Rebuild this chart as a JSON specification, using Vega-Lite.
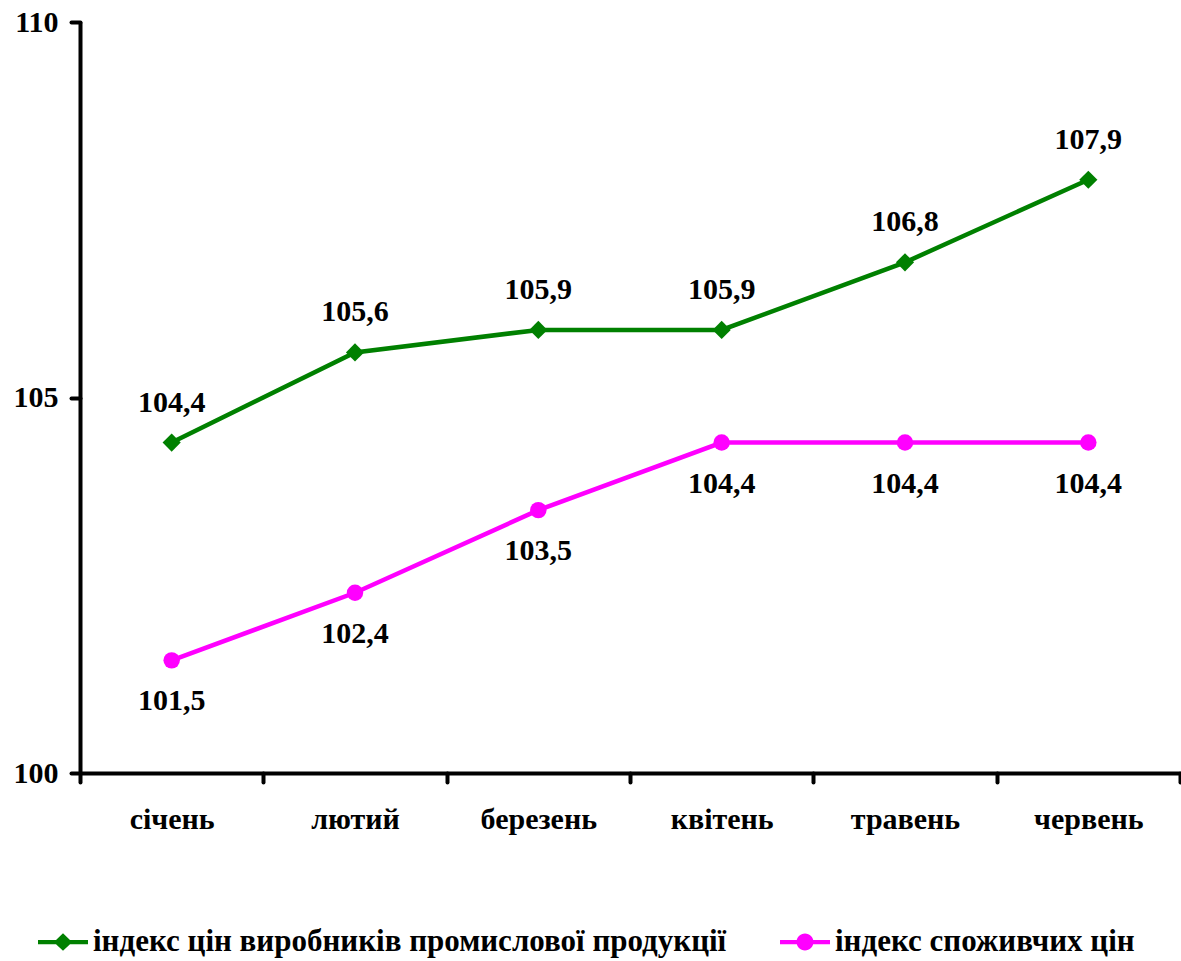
{
  "$schema": "https://vega.github.io/schema/vega-lite/v6.json",
  "autosize": "none",
  "width": 1100,
  "height": 751,
  "padding": {"left": 80, "top": 22, "right": 1, "bottom": 188},
  "background": "white",
  "config": {
    "view": {"stroke": null},
    "font": "Liberation Serif",
    "locale": {"number": {"decimal": ",", "thousands": " ", "grouping": [3], "currency": ["", ""]}}
  },
  "data": {
    "values": [
      {"month": "січень", "series": "індекс цін виробників промислової продукції", "value": 104.4},
      {"month": "лютий", "series": "індекс цін виробників промислової продукції", "value": 105.6},
      {"month": "березень", "series": "індекс цін виробників промислової продукції", "value": 105.9},
      {"month": "квітень", "series": "індекс цін виробників промислової продукції", "value": 105.9},
      {"month": "травень", "series": "індекс цін виробників промислової продукції", "value": 106.8},
      {"month": "червень", "series": "індекс цін виробників промислової продукції", "value": 107.9},
      {"month": "січень", "series": "індекс споживчих цін", "value": 101.5},
      {"month": "лютий", "series": "індекс споживчих цін", "value": 102.4},
      {"month": "березень", "series": "індекс споживчих цін", "value": 103.5},
      {"month": "квітень", "series": "індекс споживчих цін", "value": 104.4},
      {"month": "травень", "series": "індекс споживчих цін", "value": 104.4},
      {"month": "червень", "series": "індекс споживчих цін", "value": 104.4}
    ]
  },
  "encoding": {
    "x": {
      "field": "month", "type": "nominal", "sort": null,
      "scale": {"paddingInner": 0, "paddingOuter": 0},
      "axis": {
        "title": null, "labelAngle": 0, "domainColor": "black", "domainWidth": 4,
        "tickColor": "black", "tickWidth": 4, "tickSize": 9, "tickBand": "extent", "tickCap": "round",
        "labelFont": "Liberation Serif", "labelFontWeight": "bold", "labelFontSize": 30, "labelColor": "black",
        "labelPadding": 22, "grid": false
      }
    },
    "y": {
      "field": "value", "type": "quantitative",
      "scale": {"domain": [100, 110], "nice": false, "zero": false},
      "axis": {
        "title": null, "values": [100, 105, 110], "format": "d", "domainColor": "black", "domainWidth": 4,
        "tickColor": "black", "tickWidth": 4, "tickSize": 9, "tickCap": "round",
        "labelFont": "Liberation Serif", "labelFontWeight": "bold", "labelFontSize": 30, "labelColor": "black",
        "labelPadding": 13, "grid": false
      }
    },
    "color": {
      "field": "series", "type": "nominal",
      "scale": {"domain": ["індекс цін виробників промислової продукції", "індекс споживчих цін"], "range": ["#008000", "#FF00FF"]},
      "legend": {
        "title": null, "orient": "none", "legendX": -42, "legendY": 895, "direction": "horizontal",
        "columnPadding": 53, "symbolSize": 2500, "symbolStrokeWidth": 0, "symbolOpacity": 1,
        "labelFont": "Liberation Serif", "labelFontWeight": "bold", "labelFontSize": 31, "labelColor": "black",
        "labelOffset": 5, "labelLimit": 1000,
        "encode": {
          "symbols": {
            "update": {
              "shape": {"signal": "datum.value == 'індекс споживчих цін' ? 'M-1,-0.085 L1,-0.085 L1,0.085 L-1,0.085 Z M-0.34,0 A0.34,0.34 0 1 1 0.34,0 A0.34,0.34 0 1 1 -0.34,0 Z' : 'M-1,-0.085 L-0.28,-0.085 L0,-0.35 L0.28,-0.085 L1,-0.085 L1,0.085 L0.28,0.085 L0,0.35 L-0.28,0.085 L-1,0.085 Z'"},
              "size": {"value": 2500},
              "strokeWidth": {"value": 0}
            }
          }
        }
      }
    }
  },
  "layer": [
    {
      "mark": {"type": "line", "strokeWidth": 4.5}
    },
    {
      "transform": [{"filter": "datum.series == 'індекс цін виробників промислової продукції'"}],
      "mark": {"type": "point", "filled": true, "opacity": 1, "shape": "diamond", "size": 330}
    },
    {
      "transform": [{"filter": "datum.series == 'індекс споживчих цін'"}],
      "mark": {"type": "point", "filled": true, "opacity": 1, "shape": "circle", "size": 270}
    },
    {
      "transform": [{"filter": "datum.series == 'індекс цін виробників промислової продукції'"}],
      "mark": {"type": "text", "dy": -40, "font": "Liberation Serif", "fontWeight": "bold", "fontSize": 30},
      "encoding": {"text": {"field": "value", "type": "quantitative", "format": ".1f"}, "color": {"value": "black"}}
    },
    {
      "transform": [{"filter": "datum.series == 'індекс споживчих цін'"}],
      "mark": {"type": "text", "dy": 41, "font": "Liberation Serif", "fontWeight": "bold", "fontSize": 30},
      "encoding": {"text": {"field": "value", "type": "quantitative", "format": ".1f"}, "color": {"value": "black"}}
    }
  ]
}
